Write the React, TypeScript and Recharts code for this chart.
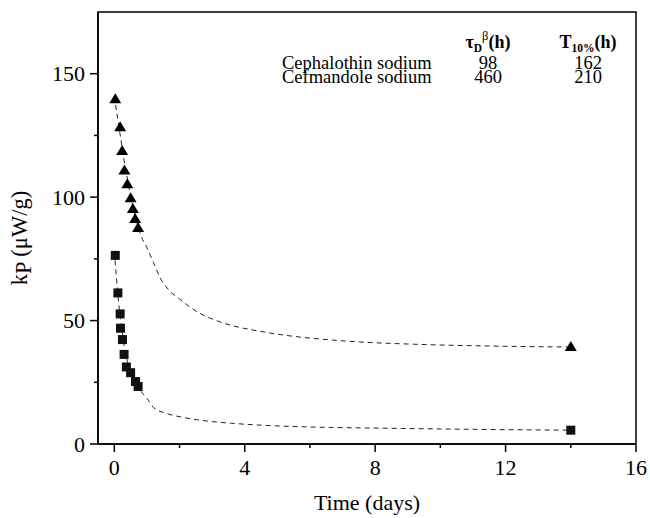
import React from 'react';
import { ComposedChart, Line, Scatter, XAxis, YAxis, ReferenceArea, Customized } from 'recharts';

const FONT = "'Liberation Serif', 'DejaVu Serif', serif";

// Measured points (triangles)
const triangleDays = [0.03, 0.18, 0.24, 0.31, 0.4, 0.5, 0.57, 0.64, 0.73, 14.0];
const triangleKp = [139.9, 128.5, 118.9, 111.0, 105.4, 99.8, 95.4, 91.3, 87.7, 39.5];

// Measured points (squares)
const squareDays = [0.03, 0.11, 0.18, 0.19, 0.25, 0.3, 0.37, 0.5, 0.65, 0.73, 14.0];
const squareKp = [76.4, 61.2, 52.7, 46.9, 42.3, 36.3, 31.2, 28.9, 25.3, 23.3, 5.6];

// Fitted (dashed) curves
const upperFitDays = [0, 0.1, 0.2, 0.3, 0.4, 0.5, 0.6, 0.7, 0.8, 1.0, 1.2, 1.4, 1.7, 2.0, 2.3, 2.6, 3.0, 3.6, 4.2, 4.9, 5.7, 6.7, 7.7, 8.8, 10, 11.5, 13, 14];
const upperFitKp = [141, 132, 123.5, 115, 107.5, 100.5, 94.5, 89.5, 85, 79.5, 73.5, 67.5, 62, 58.8, 55.7, 53.1, 50.7, 48, 46.3, 44.7, 43.3, 42.1, 41.2, 40.6, 40.1, 39.7, 39.4, 39.3];

const lowerFitDays = [0, 0.05, 0.1, 0.15, 0.2, 0.25, 0.3, 0.4, 0.5, 0.6, 0.7, 0.8, 0.9, 1.0, 1.2, 1.6, 2.1, 2.6, 3.6, 4.7, 5.7, 6.7, 7.7, 8.8, 10, 12, 14];
const lowerFitKp = [78, 70, 62, 55, 49.5, 44.5, 40, 33.5, 29, 25.8, 23.5, 21.7, 20, 18.5, 14.8, 12.4, 10.8, 9.7, 8.4, 7.5, 7.0, 6.7, 6.5, 6.3, 6.1, 5.8, 5.6];

const xTicks = [0, 2, 4, 6, 8, 10, 12, 14, 16];
const yTicks = [0, 25, 50, 75, 100, 125, 150];
const xLabeled = [0, 4, 8, 12, 16];
const yLabeled = [0, 50, 100, 150];

// Legend table
const tableNames = ['Cephalothin sodium', 'Cefmandole sodium'];
const tableTau = ['98', '460'];
const tableT10 = ['162', '210'];

const zip = (xs: number[], ys: number[]) => xs.map((x, i) => ({ x, y: ys[i] }));
const triangleData = zip(triangleDays, triangleKp);
const squareData = zip(squareDays, squareKp);
const upperFit = zip(upperFitDays, upperFitKp);
const lowerFit = zip(lowerFitDays, lowerFitKp);

const txt = { fontFamily: FONT };

const Tri = (p: any) => (
  <polygon
    points={`${p.cx},${p.cy - 5.5} ${p.cx - 6},${p.cy + 4.5} ${p.cx + 6},${p.cy + 4.5}`}
    fill="#000"
  />
);
const Sq = (p: any) => <rect x={p.cx - 4.5} y={p.cy - 4.5} width={9} height={9} fill="#111" />;

const XTick = (props: any) => {
  const { x, y, payload } = props;
  const major = xLabeled.includes(payload.value);
  return (
    <g>
      <line x1={x} y1={y} x2={x} y2={y + (major ? 8 : 4)} stroke="#000" strokeWidth={1.5} />
      {major && (
        <text x={x} y={y + 31} textAnchor="middle" fontSize={22} style={txt} fill="#000">
          {payload.value}
        </text>
      )}
    </g>
  );
};

const YTick = (props: any) => {
  const { x, y, payload } = props;
  const major = yLabeled.includes(payload.value);
  return (
    <g>
      <line x1={x} y1={y} x2={x - (major ? 8 : 4)} y2={y} stroke="#000" strokeWidth={1.5} />
      {major && (
        <text x={x - 13} y={y + 7.5} textAnchor="end" fontSize={22} style={txt} fill="#000">
          {payload.value}
        </text>
      )}
    </g>
  );
};

const rowY = [68.5, 82.5];

const Annotations = () => (
  <g fill="#000">
    <text x={27} y={238} transform="rotate(-90, 27, 238)" textAnchor="middle" fontSize={22.5} style={txt}>
      k<tspan dy={4}>P</tspan>
      <tspan dy={-4}> (μW/g)</tspan>
    </text>
    <text x={367} y={510} textAnchor="middle" fontSize={22} style={txt}>
      Time (days)
    </text>
    <text x={488} y={48} textAnchor="middle" fontSize={18} fontWeight="bold" style={txt}>
      τ<tspan dy={4} fontSize={11.5}>D</tspan>
      <tspan dy={-12} fontSize={12.5} fontWeight="normal">β</tspan>
      <tspan dy={8}>(h)</tspan>
    </text>
    <text x={588} y={48} textAnchor="middle" fontSize={18} fontWeight="bold" style={txt}>
      T<tspan dy={4} fontSize={11.5}>10%</tspan>
      <tspan dy={-4}>(h)</tspan>
    </text>
    {tableNames.map((n, i) => (
      <g key={n}>
        <text x={282} y={rowY[i]} fontSize={18.5} style={txt}>
          {n}
        </text>
        <text x={488} y={rowY[i]} fontSize={18.5} textAnchor="middle" style={txt}>
          {tableTau[i]}
        </text>
        <text x={588} y={rowY[i]} fontSize={18.5} textAnchor="middle" style={txt}>
          {tableT10[i]}
        </text>
      </g>
    ))}
  </g>
);

export default function App() {
  return (
    <div style={{ position: 'absolute', left: 0, top: 0, background: '#fff' }}>
      <ComposedChart width={650} height={518} margin={{ top: 12, right: 14, bottom: 0, left: 0 }}>
        <XAxis
          type="number"
          dataKey="x"
          domain={[-0.5, 16]}
          ticks={xTicks}
          allowDataOverflow
          height={74}
          tickSize={0}
          tickMargin={0}
          tickLine={false}
          tick={<XTick />}
          axisLine={{ stroke: '#000', strokeWidth: 1.5 }}
        />
        <YAxis
          type="number"
          dataKey="y"
          domain={[0, 175]}
          ticks={yTicks}
          allowDataOverflow
          width={98}
          tickSize={0}
          tickMargin={0}
          tickLine={false}
          tick={<YTick />}
          axisLine={{ stroke: '#000', strokeWidth: 1.5 }}
        />
        <ReferenceArea x1={-0.5} x2={16} y1={0} y2={175} fill="none" stroke="#000" strokeWidth={1.5} />
        <Line data={upperFit} dataKey="y" type="monotone" stroke="#222" strokeWidth={1} strokeDasharray="5 4" dot={false} isAnimationActive={false} />
        <Line data={lowerFit} dataKey="y" type="monotone" stroke="#222" strokeWidth={1} strokeDasharray="5 4" dot={false} isAnimationActive={false} />
        <Scatter data={triangleData} dataKey="y" shape={<Tri />} isAnimationActive={false} />
        <Scatter data={squareData} dataKey="y" shape={<Sq />} isAnimationActive={false} />
        <Customized component={<Annotations />} />
      </ComposedChart>
    </div>
  );
}
